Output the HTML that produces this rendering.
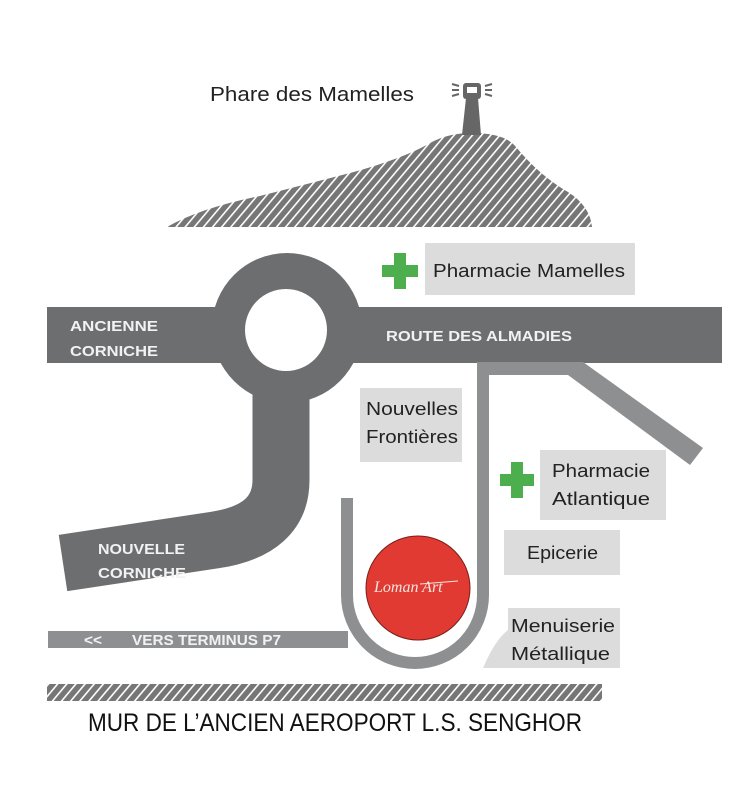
<!DOCTYPE html>
<html><head><meta charset="utf-8"><style>
html,body{margin:0;padding:0;background:#fff;width:750px;height:792px;overflow:hidden}
svg{display:block}
.lb{font-family:"Liberation Sans",sans-serif;font-weight:bold;fill:#f2f2f2;font-size:15px}
.bt{font-family:"Liberation Sans",sans-serif;fill:#222;font-size:18px}
</style></head><body>
<svg width="750" height="792" viewBox="0 0 750 792" xmlns="http://www.w3.org/2000/svg">
<defs>
<pattern id="h" width="7" height="7" patternUnits="userSpaceOnUse" patternTransform="rotate(40)">
<rect width="7" height="7" fill="#767676"/>
<rect width="1.6" height="7" fill="#fff"/>
</pattern>
</defs>

<!-- hill -->
<path d="M167 227 Q200 208 260 196 L350 173 Q405 158 430 143 Q448 133 472 133 Q505 133 516 147 Q540 176 568 192 Q590 206 592 227 Z" fill="url(#h)"/>
<!-- lighthouse -->
<path d="M466 98 L478 98 L481 135 L462 135 Z" fill="#666"/>
<rect x="463" y="83" width="18" height="16" rx="3" fill="#666"/>
<rect x="467" y="87" width="10" height="6" fill="#fff"/>
<g stroke="#666" stroke-width="2">
<line x1="452" y1="84" x2="459" y2="86"/><line x1="452" y1="90" x2="459" y2="90"/><line x1="452" y1="96" x2="459" y2="94"/>
<line x1="485" y1="86" x2="492" y2="84"/><line x1="485" y1="90" x2="492" y2="90"/><line x1="485" y1="94" x2="492" y2="96"/>
</g>
<text x="210" y="101" font-family="Liberation Sans,sans-serif" font-size="20" fill="#222" textLength="204" lengthAdjust="spacingAndGlyphs">Phare des Mamelles</text>

<!-- main road -->
<rect x="47" y="307" width="675" height="56" fill="#6d6e70"/>
<circle cx="287" cy="328" r="75" fill="#6d6e70"/>
<path d="M63 563 L215 540 Q281 530 281 480 L281 370" fill="none" stroke="#6d6e70" stroke-width="57"/>
<circle cx="286" cy="330" r="41" fill="#fff"/>

<text class="lb" x="70" y="331" textLength="88" lengthAdjust="spacingAndGlyphs">ANCIENNE</text>
<text class="lb" x="70" y="356" textLength="88" lengthAdjust="spacingAndGlyphs">CORNICHE</text>
<text class="lb" x="386" y="341" textLength="186" lengthAdjust="spacingAndGlyphs" font-size="16">ROUTE DES ALMADIES</text>
<text class="lb" x="98" y="554" textLength="87" lengthAdjust="spacingAndGlyphs">NOUVELLE</text>
<text class="lb" x="98" y="578" textLength="88" lengthAdjust="spacingAndGlyphs">CORNICHE</text>

<!-- small roads -->
<rect x="48" y="631" width="300" height="17" fill="#8e8f91"/>
<path d="M347 498 L347 595 A68 68 0 0 0 483 595 L483 362" fill="none" stroke="#8e8f91" stroke-width="12"/>
<path d="M477 362 L583 362 L703 448 L690 465 L568 375 L489 375 L489 380 L477 380 Z" fill="#8e8f91"/>
<text class="lb" x="84" y="645" font-size="14" textLength="18" lengthAdjust="spacingAndGlyphs">&lt;&lt;</text>
<text class="lb" x="132" y="645" font-size="14" textLength="149" lengthAdjust="spacingAndGlyphs">VERS TERMINUS P7</text>

<!-- red circle -->
<circle cx="418" cy="588" r="52" fill="#e03a33" stroke="#7a1f1a" stroke-width="1"/>
<text x="374" y="592" font-family="Liberation Serif,serif" font-style="italic" font-size="16" fill="#f3e6e0">Loman Art</text>
<line x1="420" y1="584" x2="458" y2="581" stroke="#f3e6e0" stroke-width="1"/>

<!-- labels -->
<rect x="425" y="243" width="210" height="52" fill="#dcdcdc"/>
<text class="bt" x="433" y="277" textLength="192" lengthAdjust="spacingAndGlyphs">Pharmacie Mamelles</text>
<path d="M394 253 h12 v12 h12 v12 h-12 v12 h-12 v-12 h-12 v-12 h12 Z" fill="#4cae4c"/>

<rect x="360" y="388" width="102" height="74" fill="#dcdcdc"/>
<text class="bt" x="366" y="415" textLength="92" lengthAdjust="spacingAndGlyphs">Nouvelles</text>
<text class="bt" x="366" y="443" textLength="92" lengthAdjust="spacingAndGlyphs">Frontières</text>

<rect x="540" y="450" width="126" height="70" fill="#dcdcdc"/>
<text class="bt" x="552" y="477" textLength="98" lengthAdjust="spacingAndGlyphs">Pharmacie</text>
<text class="bt" x="552" y="505" textLength="98" lengthAdjust="spacingAndGlyphs">Atlantique</text>
<path d="M511 462 h12 v12 h11 v12 h-11 v12 h-12 v-12 h-11 v-12 h11 Z" fill="#4cae4c"/>

<rect x="504" y="530" width="116" height="45" fill="#dcdcdc"/>
<text class="bt" x="527" y="559" textLength="71" lengthAdjust="spacingAndGlyphs">Epicerie</text>

<path d="M508 608 L620 608 L620 668 L483 668 Q495 640 508 630 Z" fill="#dcdcdc"/>
<text class="bt" x="511" y="632" textLength="104" lengthAdjust="spacingAndGlyphs">Menuiserie</text>
<text class="bt" x="511" y="660" textLength="99" lengthAdjust="spacingAndGlyphs">Métallique</text>

<!-- wall -->
<rect x="47" y="684" width="555" height="17" fill="url(#h)"/>
<text x="88" y="731" font-family="Liberation Sans Narrow,Liberation Sans,sans-serif" font-size="25" fill="#111" textLength="494" lengthAdjust="spacingAndGlyphs">MUR DE L’ANCIEN AEROPORT L.S. SENGHOR</text>
</svg>
</body></html>
